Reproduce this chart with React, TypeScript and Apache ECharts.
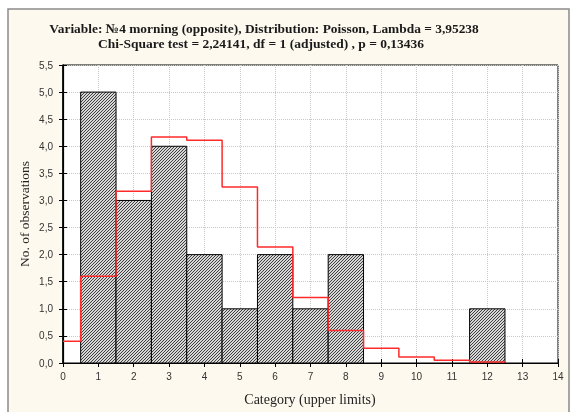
import React, { useEffect, useRef } from "react";
import * as echarts from "echarts";

const titleLine1 = "Variable: №4 morning (opposite), Distribution: Poisson, Lambda = 3,95238";
const titleLine2 = "Chi-Square test = 2,24141, df = 1 (adjusted) , p = 0,13436";
const xAxisName = "Category (upper limits)";
const yAxisName = "No. of observations";

// observed counts per category (upper limits)
const categories = [1, 2, 3, 4, 5, 6, 7, 8, 12];
const observed = [5, 3, 4, 2, 1, 2, 1, 2, 1];

// expected (Poisson) frequencies per category k = 0..12
const expectedCategories = [0, 1, 2, 3, 4, 5, 6, 7, 8, 9, 10, 11, 12];
const expected = [0.4, 1.6, 3.17, 4.17, 4.11, 3.25, 2.14, 1.21, 0.6, 0.27, 0.11, 0.05, 0.02];

function makeHatch(): HTMLCanvasElement {
  const c = document.createElement("canvas");
  c.width = 3;
  c.height = 3;
  const ctx = c.getContext("2d")!;
  ctx.fillStyle = "#d6d6d6";
  ctx.fillRect(0, 0, 3, 3);
  ctx.fillStyle = "#404040";
  ctx.fillRect(0, 2, 1, 1);
  ctx.fillRect(1, 1, 1, 1);
  ctx.fillRect(2, 0, 1, 1);
  return c;
}

export default function App() {
  const ref = useRef<HTMLDivElement>(null);

  useEffect(() => {
    if (!ref.current) return;
    const chart = echarts.init(ref.current, undefined, { renderer: "svg" });
    const hatch = makeHatch();

    const barData = categories.map((c, i) => [c, observed[i]]);
    const stepData: number[][] = [];
    expectedCategories.forEach((k, i) => {
      stepData.push([Math.max(k - 0.5, 0), expected[i]]);
      stepData.push([k + 0.5, expected[i]]);
    });

    const tickFont = { fontFamily: "Liberation Sans, Arial, sans-serif", fontSize: 10, color: "#333" };
    const gridLine = { show: true, lineStyle: { color: "#c8c8c8", type: "dotted" as const, width: 1 } };

    chart.setOption({
      animation: false,
      graphic: [
        {
          type: "rect",
          shape: { x: 8, y: 9, width: 561, height: 420 },
          style: { fill: "#fdf9ee", stroke: "#8a8a8a", lineWidth: 1.5 },
          z: -10,
          silent: true,
        },
        {
          type: "text",
          x: 264,
          y: 28,
          style: {
            text: titleLine1,
            font: "bold 13.4px 'Liberation Serif', 'Times New Roman', serif",
            fill: "#1a1a1a",
            align: "center",
            verticalAlign: "middle",
          },
        },
        {
          type: "text",
          x: 261,
          y: 43.5,
          style: {
            text: titleLine2,
            font: "bold 13.5px 'Liberation Serif', 'Times New Roman', serif",
            fill: "#1a1a1a",
            align: "center",
            verticalAlign: "middle",
          },
        },
        {
          type: "text",
          x: 310,
          y: 399,
          style: {
            text: xAxisName,
            font: "14px 'Liberation Serif', 'Times New Roman', serif",
            fill: "#222",
            align: "center",
            verticalAlign: "middle",
          },
        },
        {
          type: "text",
          x: 24,
          y: 214,
          rotation: Math.PI / 2,
          style: {
            text: yAxisName,
            font: "13.5px 'Liberation Serif', 'Times New Roman', serif",
            fill: "#222",
            align: "center",
            verticalAlign: "middle",
          },
        },
      ],
      grid: {
        left: 63,
        top: 65,
        right: 15,
        bottom: 49,
        show: true,
        backgroundColor: "#ffffff",
        borderColor: "#000",
        borderWidth: 1,
      },
      xAxis: [
        {
          type: "value",
          min: 0,
          max: 14,
          interval: 1,
          position: "bottom",
          axisLine: { show: true, lineStyle: { color: "#000", width: 1.2 } },
          axisTick: { show: true, inside: true, length: 4, lineStyle: { color: "#000" } },
          axisLabel: { ...tickFont, margin: 8 },
          splitLine: gridLine,
        },
        {
          type: "value",
          min: 0,
          max: 14,
          interval: 1,
          position: "top",
          axisLine: { show: true, lineStyle: { color: "#000", width: 1 } },
          axisTick: { show: true, inside: true, length: 4, lineStyle: { color: "#000" } },
          axisLabel: { show: false },
          splitLine: { show: false },
        },
      ],
      yAxis: [
        {
          type: "value",
          min: 0,
          max: 5.5,
          interval: 0.5,
          position: "left",
          axisLine: { show: true, lineStyle: { color: "#000", width: 1.2 } },
          axisTick: { show: true, inside: true, length: 4, lineStyle: { color: "#000" } },
          axisLabel: {
            ...tickFont,
            margin: 10,
            formatter: (v: number) => v.toFixed(1).replace(".", ","),
          },
          splitLine: gridLine,
        },
        {
          type: "value",
          min: 0,
          max: 5.5,
          interval: 0.5,
          position: "right",
          axisLine: { show: true, lineStyle: { color: "#000", width: 1.5 } },
          axisTick: { show: true, inside: true, length: 4, lineStyle: { color: "#000" } },
          axisLabel: { show: false },
          splitLine: { show: false },
        },
      ],
      series: [
        {
          type: "custom",
          xAxisIndex: 0,
          yAxisIndex: 0,
          data: barData,
          z: 2,
          renderItem: (params: any, api: any) => {
            const x = api.value(0);
            const y = api.value(1);
            const p0 = api.coord([x - 0.5, 0]);
            const p1 = api.coord([x + 0.5, y]);
            return {
              type: "rect",
              shape: { x: p0[0], y: p1[1], width: p1[0] - p0[0], height: p0[1] - p1[1] },
              style: {
                fill: { image: hatch, repeat: "repeat", imageWidth: 3, imageHeight: 3 },
                stroke: "#000",
                lineWidth: 1,
              },
            };
          },
        },
        {
          type: "line",
          xAxisIndex: 0,
          yAxisIndex: 0,
          data: stepData,
          showSymbol: false,
          symbol: "none",
          z: 5,
          lineStyle: { color: "#ff2a2a", width: 1.5 },
        },
      ],
    });

    return () => chart.dispose();
  }, []);

  return (
    <div
      ref={ref}
      style={{ position: "fixed", left: 0, top: 0, width: 573, height: 412 }}
    />
  );
}
